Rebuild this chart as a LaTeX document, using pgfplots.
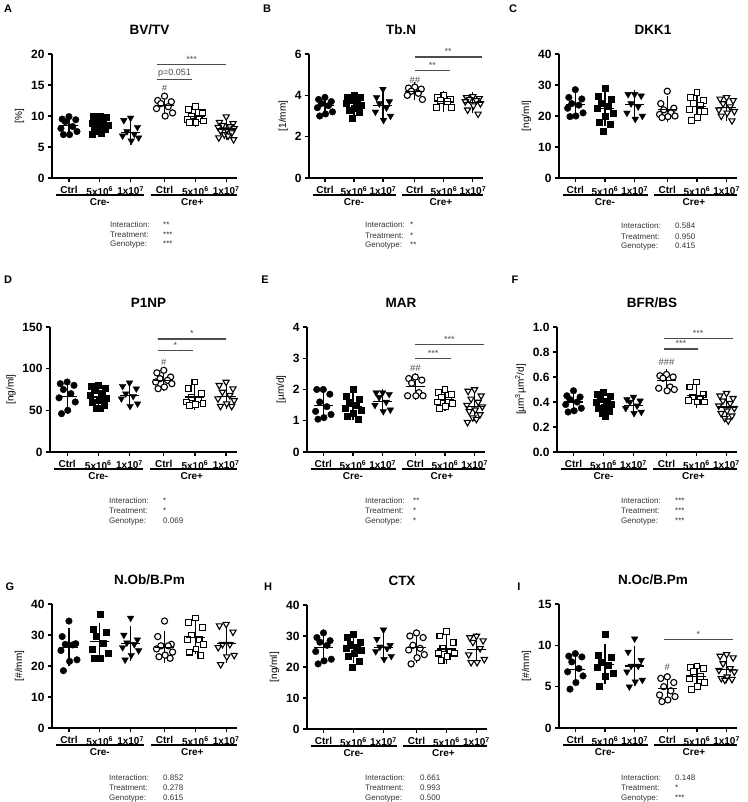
\documentclass[border=0pt]{standalone}
\usepackage{pgfplots}
\pgfplotsset{compat=1.18}
\usepackage{fontspec}
\setmainfont{Liberation Sans}
\definecolor{sigc}{gray}{0.3}
\definecolor{txtc}{gray}{0.2}
\pgfplotsset{
 panel/.style={
  scale only axis, height=124pt, anchor=south west,
  axis x line*=bottom, axis y line*=left,
  axis line style={line width=1.3pt},
  xmin=-0.55, xmax=5.45, ymin=0,
  xtick={0,1,2,3.1,4.1,5.1},
  xticklabels={Ctrl,5x10\textsuperscript{6},1x10\textsuperscript{7},Ctrl,5x10\textsuperscript{6},1x10\textsuperscript{7}},
  tick align=outside, major tick length=4pt,
  every tick/.style={line width=1.2pt, black},
  x tick label style={font=\bfseries\fontsize{10}{11}\selectfont, yshift=-1pt},
  y tick label style={font=\bfseries\fontsize{12}{13}\selectfont},
  /pgf/number format/assume math mode=true,
  ylabel style={font=\fontsize{10}{11}\selectfont},
  title style={font=\bfseries\fontsize{13.5}{15}\selectfont, at={(0.5,1)}, anchor=center, yshift=18pt, xshift=5pt},
  clip=false,
 },
 fc/.style={only marks, mark=*, mark size=3.3pt, mark options={draw=black, fill=black}},
 fs/.style={only marks, mark=square*, mark size=3pt, mark options={draw=black, fill=black}},
 ft/.style={only marks, mark=triangle*, mark size=3.8pt, mark options={draw=black, fill=black, rotate=180}},
 oc/.style={only marks, mark=*, mark size=3.1pt, mark options={draw=black, fill=white, line width=1.1pt}},
 os/.style={only marks, mark=square*, mark size=2.9pt, mark options={draw=black, fill=white, line width=1.1pt}},
 ot/.style={only marks, mark=triangle*, mark size=3.6pt, mark options={draw=black, fill=white, line width=1.1pt, rotate=180}},
}
\newcommand{\pts}[3]{\addplot[#2] table[row sep=\\, x expr=#1+\thisrow{o}, y=v]{o v\\#3\\};}
\newcommand{\msd}[3]{\addplot[black, line width=1.1pt, mark=-, mark size=9.5pt, error bars/.cd, y dir=both, y explicit, error bar style={line width=1.1pt}, error mark options={line width=1.1pt, mark size=5pt}] coordinates {(#1,#2) +- (0,#3)};}
\newcommand{\sig}[4]{\draw[sigc, line width=1.3pt] (axis cs:#1,#3) -- (axis cs:#2,#3) node[midway, above, inner sep=1.5pt, font=\fontsize{9}{10}\selectfont, text=sigc] {#4};}
\newcommand{\hashm}[2]{\node[font=\fontsize{9.5}{10}\selectfont, text=sigc] at (axis cs:3.1,#1) {#2};}
\newcommand{\geno}{%
 \draw[line width=1.2pt] ([yshift=-17pt]axis cs:-0.42,0) -- ([yshift=-17pt]axis cs:2.45,0);
 \draw[line width=1.2pt] ([yshift=-17pt]axis cs:2.65,0) -- ([yshift=-17pt]axis cs:5.45,0);
 \node[font=\bfseries\fontsize{10}{11}\selectfont] at ([yshift=-24.5pt]axis cs:1,0) {Cre-};
 \node[font=\bfseries\fontsize{10}{11}\selectfont] at ([yshift=-24.5pt]axis cs:4.0,0) {Cre+};
}
\newcommand{\stats}[6]{\node[anchor=base west, inner sep=0pt, text=txtc, font=\fontsize{8}{10}\selectfont] at (#1pt,-#2pt) {\begin{tabular}[t]{@{}p{#3pt}@{}l@{}}Interaction: & #4\\ Treatment: & #5\\ Genotype: & #6\end{tabular}};}
\newcommand{\plet}[3]{\node[font=\bfseries\fontsize{11}{12}\selectfont] at (#1pt,-#2pt) {#3};}
\begin{document}
\begin{tikzpicture}
\path[use as bounding box] (0pt,0pt) rectangle (747pt,-802pt);
% ---------- A
\begin{axis}[panel, at={(52pt,-178pt)}, width=185pt, ymax=20, ytick={0,5,10,15,20}, ylabel={[\%]}, title={BV/TV}]
\pts{0}{fc}{0 9.9\\-0.22 9.5\\0.22 9.4\\-0.12 9.1\\0.12 8.3\\-0.26 8.0\\0.26 7.5\\0.02 7.0\\-0.18 7.0}
\pts{1}{fs}{0 10.0\\-0.22 10.0\\0.22 9.8\\-0.12 9.2\\0.12 9.0\\-0.26 8.8\\0.26 8.5\\0.02 8.3\\-0.18 8.0\\0.18 7.8\\-0.06 7.5\\0.06 7.2\\-0.24 7.0}
\pts{2}{ft}{0 9.7\\-0.22 9.3\\0.22 8.2\\-0.12 7.5\\0.12 7.1\\-0.26 6.8\\0.26 6.5\\0.02 6.0}
\pts{3.1}{oc}{0 13.2\\-0.22 12.5\\0.22 12.3\\-0.12 12.0\\0.12 11.5\\-0.26 11.2\\0.26 10.5\\0.02 10.0}
\pts{4.1}{os}{0 11.5\\-0.22 11.0\\0.22 10.5\\-0.12 10.0\\0.12 9.6\\-0.26 9.4\\0.26 9.2\\0.02 9.0\\-0.18 8.9}
\pts{5.1}{ot}{0 9.9\\-0.22 9.0\\0.22 8.8\\-0.12 8.5\\0.12 8.3\\-0.26 8.2\\0.26 8.0\\0.02 7.8\\-0.18 7.6\\0.18 7.3\\-0.06 7.0\\0.06 6.8\\-0.24 6.5\\0.24 6.2}
\msd{0}{8.4}{1.0}\msd{1}{8.6}{0.9}\msd{2}{7.3}{1.2}\msd{3.1}{11.7}{1.0}\msd{4.1}{9.9}{0.9}\msd{5.1}{7.9}{1.0}
\sig{2.85}{5.1}{18.3}{***}\sig{2.85}{4.0}{15.9}{p=0.051}\hashm{14.4}{\#}
\geno
\end{axis}
% ---------- B
\begin{axis}[panel, at={(309pt,-178pt)}, width=174pt, ymax=6, ytick={0,2,4,6}, ylabel={[1/mm]}, title={Tb.N}]
\pts{0}{fc}{0 3.9\\-0.22 3.8\\0.22 3.7\\-0.12 3.6\\0.12 3.5\\-0.26 3.4\\0.26 3.2\\0.02 3.1\\-0.18 3.0}
\pts{1}{fs}{0 4.0\\-0.22 3.9\\0.22 3.9\\-0.12 3.8\\0.12 3.7\\-0.26 3.6\\0.26 3.5\\0.02 3.4\\-0.18 3.3\\0.18 3.2\\-0.06 2.9}
\pts{2}{ft}{0 4.3\\-0.22 3.9\\0.22 3.7\\-0.12 3.6\\0.12 3.4\\-0.26 3.2\\0.26 3.0\\0.02 2.8}
\pts{3.1}{oc}{0 4.4\\-0.22 4.35\\0.22 4.3\\-0.12 4.2\\0.12 4.1\\-0.26 4.0\\0.26 3.8}
\pts{4.1}{os}{0 4.0\\-0.22 3.9\\0.22 3.8\\-0.12 3.75\\0.12 3.7\\-0.26 3.4\\0.26 3.4}
\pts{5.1}{ot}{0 3.95\\-0.22 3.9\\0.22 3.85\\-0.12 3.8\\0.12 3.75\\-0.26 3.7\\0.26 3.6\\0.02 3.5\\-0.18 3.3\\0.18 3.1}
\msd{0}{3.5}{0.3}\msd{1}{3.6}{0.32}\msd{2}{3.5}{0.47}\msd{3.1}{4.2}{0.2}\msd{4.1}{3.7}{0.25}\msd{5.1}{3.65}{0.28}
\sig{3.1}{5.4}{5.85}{**}\sig{3.1}{4.3}{5.2}{**}\hashm{4.75}{\#\#}
\geno
\end{axis}
% ---------- C
\begin{axis}[panel, at={(559pt,-178pt)}, width=178pt, ymax=40, ytick={0,10,20,30,40}, ylabel={[ng/ml]}, title={DKK1}]
\pts{0}{fc}{0 28.5\\-0.22 26\\0.22 25.5\\-0.12 24\\0.12 23.5\\-0.26 22.5\\0.26 21\\0.02 20\\-0.18 19.8}
\pts{1}{fs}{0 29\\-0.22 26.5\\0.22 25.5\\-0.12 24\\0.12 23\\-0.26 22.5\\0.26 21\\0.02 20\\-0.18 18\\0.18 17.5\\-0.06 15}
\pts{2}{ft}{0 27\\-0.22 27\\0.22 26.5\\-0.12 24\\0.12 23\\-0.26 21\\0.26 20\\0.02 19}
\pts{3.1}{oc}{0 28\\-0.22 24\\0.22 22.5\\-0.12 22\\0.12 21\\-0.26 20.5\\0.26 20\\0.02 19.8\\-0.18 19.5}
\pts{4.1}{os}{0 27.5\\-0.22 26\\0.22 25\\-0.12 24\\0.12 23.5\\-0.26 22\\0.26 21.5\\0.02 19.5\\-0.18 18.5}
\pts{5.1}{ot}{0 26\\-0.22 25.5\\0.22 25\\-0.12 24\\0.12 23\\-0.26 22\\0.26 21.5\\0.02 21\\-0.18 20\\0.18 18.5}
\msd{0}{23.7}{2.6}\msd{1}{22.5}{4}\msd{2}{23.7}{3.2}\msd{3.1}{22.2}{2.6}\msd{4.1}{23.2}{2.9}\msd{5.1}{22.6}{2.6}
\geno
\end{axis}
% ---------- D
\begin{axis}[panel, at={(50pt,-452pt)}, width=187pt, height=125pt, ymax=150, ytick={0,50,100,150}, ylabel={[ng/ml]}, title={P1NP}]
\pts{0}{fc}{0 84\\-0.22 82\\0.22 80\\-0.12 75\\0.12 70\\-0.26 65\\0.26 60\\0.02 50\\-0.18 46}
\pts{1}{fs}{0 80\\-0.22 79\\0.22 76\\-0.12 74\\0.12 70\\-0.26 68\\0.26 65\\0.02 62\\-0.18 60\\0.18 56\\-0.06 53\\0.06 52}
\pts{2}{ft}{0 83\\-0.22 79\\0.22 76\\-0.12 70\\0.12 67\\-0.26 64\\0.26 58\\0.02 55}
\pts{3.1}{oc}{0 98\\-0.22 95\\0.22 90\\-0.12 88\\0.12 86\\-0.26 84\\0.26 82\\0.02 78\\-0.18 76}
\pts{4.1}{os}{0 84\\-0.22 76\\0.22 70\\-0.12 65\\0.12 63\\-0.26 60\\0.26 58\\0.02 57\\-0.18 56}
\pts{5.1}{ot}{0 84\\-0.22 80\\0.22 76\\-0.12 72\\0.12 68\\-0.26 64\\0.26 62\\0.02 58\\-0.18 55\\0.18 55}
\msd{0}{67}{13}\msd{1}{66}{9.5}\msd{2}{68}{10}\msd{3.1}{86}{7}\msd{4.1}{66}{9}\msd{5.1}{67}{9.5}
\sig{2.9}{5.1}{135.5}{*}\sig{2.9}{4.05}{122}{*}\hashm{108}{\#}
\geno
\end{axis}
% ---------- E
\begin{axis}[panel, at={(307pt,-452pt)}, width=178pt, height=125pt, ymax=4, ytick={0,1,2,3,4}, ylabel={[µm/d]}, title={MAR}]
\pts{0}{fc}{0 2.0\\-0.22 2.0\\0.22 1.85\\-0.12 1.6\\0.12 1.45\\-0.26 1.3\\0.26 1.2\\0.02 1.1\\-0.18 1.05}
\pts{1}{fs}{0 2.0\\-0.22 1.8\\0.22 1.7\\-0.12 1.6\\0.12 1.5\\-0.26 1.4\\0.26 1.35\\0.02 1.25\\-0.18 1.15\\0.18 1.05}
\pts{2}{ft}{0 1.9\\-0.22 1.9\\0.22 1.85\\-0.12 1.75\\0.12 1.6\\-0.26 1.5\\0.26 1.35\\0.02 1.3}
\pts{3.1}{oc}{0 2.4\\-0.22 2.35\\0.22 2.3\\-0.12 2.2\\0.12 1.9\\-0.26 1.8\\0.26 1.8\\0.02 1.8}
\pts{4.1}{os}{0 2.0\\-0.22 1.9\\0.22 1.85\\-0.12 1.75\\0.12 1.65\\-0.26 1.6\\0.26 1.55\\0.02 1.45\\-0.18 1.4}
\pts{5.1}{ot}{0 2.0\\-0.22 1.95\\0.22 1.8\\-0.12 1.7\\0.12 1.6\\-0.26 1.5\\0.26 1.45\\0.02 1.35\\-0.18 1.3\\0.18 1.2\\-0.06 1.1\\0.06 1.05\\-0.24 0.95}
\msd{0}{1.5}{0.35}\msd{1}{1.45}{0.28}\msd{2}{1.63}{0.22}\msd{3.1}{2.1}{0.27}\msd{4.1}{1.68}{0.2}\msd{5.1}{1.47}{0.33}
\sig{3.1}{5.4}{3.43}{***}\sig{3.1}{4.3}{3.0}{***}\hashm{2.68}{\#\#}
\geno
\end{axis}
% ---------- F
\begin{axis}[panel, at={(557pt,-452pt)}, width=180pt, height=125pt, ymax=1, ytick={0,0.2,0.4,0.6,0.8,1.0}, yticklabel style={/pgf/number format/.cd, fixed, fixed zerofill, precision=1}, ylabel={[µm\textsuperscript{3}µm\textsuperscript{2}/d]}, title={BFR/BS}]
\pts{0}{fc}{0 0.49\\-0.22 0.45\\0.22 0.44\\-0.12 0.42\\0.12 0.40\\-0.26 0.38\\0.26 0.35\\0.02 0.33\\-0.18 0.32}
\pts{1}{fs}{0 0.48\\-0.22 0.46\\0.22 0.45\\-0.12 0.43\\0.12 0.41\\-0.26 0.40\\0.26 0.38\\0.02 0.36\\-0.18 0.35\\0.18 0.33\\-0.06 0.31\\0.06 0.29}
\pts{2}{ft}{0 0.44\\-0.22 0.42\\0.22 0.41\\-0.12 0.40\\0.12 0.37\\-0.26 0.35\\0.26 0.32\\0.02 0.31}
\pts{3.1}{oc}{0 0.62\\-0.22 0.61\\0.22 0.60\\-0.12 0.59\\0.12 0.52\\-0.26 0.51\\0.26 0.50\\0.02 0.49}
\pts{4.1}{os}{0 0.56\\-0.22 0.52\\0.22 0.46\\-0.12 0.44\\0.12 0.42\\-0.26 0.41\\0.26 0.40\\0.02 0.40}
\pts{5.1}{ot}{0 0.47\\-0.22 0.45\\0.22 0.43\\-0.12 0.41\\0.12 0.39\\-0.26 0.37\\0.26 0.35\\0.02 0.33\\-0.18 0.31\\0.18 0.29\\-0.06 0.27\\0.06 0.25}
\msd{0}{0.40}{0.055}\msd{1}{0.40}{0.06}\msd{2}{0.37}{0.045}\msd{3.1}{0.57}{0.055}\msd{4.1}{0.45}{0.06}\msd{5.1}{0.36}{0.07}
\sig{3.0}{5.3}{0.906}{***}\sig{3.0}{4.15}{0.823}{***}\hashm{0.72}{\#\#\#}
\geno
\end{axis}
% ---------- G
\begin{axis}[panel, at={(52pt,-728pt)}, width=185pt, ymax=40, ytick={0,10,20,30,40}, ylabel={[\#/mm]}, title={N.Ob/B.Pm}]
\pts{0}{fc}{0 34.5\\-0.22 29.5\\0.22 27.2\\-0.12 27\\0.12 26.8\\-0.26 25\\0.26 22\\0.02 21.5\\-0.18 18.5}
\pts{1}{fs}{0 36.8\\-0.22 32\\0.22 31\\-0.12 29.5\\0.12 27.5\\-0.26 25.5\\0.26 24\\0.02 22.5\\-0.18 22.5}
\pts{2}{ft}{0 35.5\\-0.22 30\\0.22 28.5\\-0.12 27.5\\0.12 27\\-0.26 26\\0.26 25\\0.02 23.5\\-0.18 22}
\pts{3.1}{oc}{0 34.5\\-0.22 29.5\\0.22 27\\-0.12 26.5\\0.12 26.5\\-0.26 25.5\\0.26 24.5\\0.02 23.5\\-0.18 23\\0.18 22.5}
\pts{4.1}{os}{0 35.5\\-0.22 34\\0.22 32.5\\-0.12 30\\0.12 28.5\\-0.26 28.5\\0.26 27\\0.02 25.5\\-0.18 24.5\\0.18 23.5}
\pts{5.1}{ot}{0 33.5\\-0.22 33\\0.22 31\\-0.12 27\\0.12 27\\-0.26 26\\0.26 23.5\\0.02 23\\-0.18 20.5}
\msd{0}{26.1}{4.5}\msd{1}{27.8}{4.5}\msd{2}{27.2}{4}\msd{3.1}{26.1}{3.6}\msd{4.1}{29.3}{3.9}\msd{5.1}{27.2}{4.5}
\geno
\end{axis}
% ---------- H
\begin{axis}[panel, at={(307pt,-729pt)}, width=180pt, ymax=40, ytick={0,10,20,30,40}, ylabel={[ng/ml]}, title={CTX}]
\pts{0}{fc}{0 31\\-0.22 29.5\\0.22 28.5\\-0.12 28\\0.12 27\\-0.26 25\\0.26 22.5\\0.02 22\\-0.18 21}
\pts{1}{fs}{0 30.5\\-0.22 29.5\\0.22 28\\-0.12 27.5\\0.12 26.5\\-0.26 26\\0.26 25.5\\0.02 24.5\\-0.18 23.5\\0.18 22\\-0.06 20}
\pts{2}{ft}{0 32\\-0.22 29\\0.22 27\\-0.12 26.5\\0.12 26\\-0.26 25\\0.26 23.5\\0.02 22.5}
\pts{3.1}{oc}{0 31\\-0.22 30\\0.22 29.5\\-0.12 27\\0.12 26\\-0.26 25.5\\0.26 24\\0.02 23\\-0.18 21}
\pts{4.1}{os}{0 31.5\\-0.22 30\\0.22 28\\-0.12 26\\0.12 25\\-0.26 24.5\\0.26 24.5\\0.02 23.5\\-0.18 22}
\pts{5.1}{ot}{0 30\\-0.22 29.5\\0.22 28.5\\-0.12 28\\0.12 26\\-0.26 24\\0.26 22.5\\0.02 21.5\\-0.18 21.5}
\msd{0}{26.3}{3.4}\msd{1}{25.9}{3.1}\msd{2}{26.3}{3}\msd{3.1}{26.2}{3.2}\msd{4.1}{25.8}{3.2}\msd{5.1}{25.7}{3.5}
\geno
\end{axis}
% ---------- I
\begin{axis}[panel, at={(559pt,-728pt)}, width=178pt, ymax=15, ytick={0,5,10,15}, ylabel={[\#/mm]}, title={N.Oc/B.Pm}]
\pts{0}{fc}{0 9.0\\-0.22 8.7\\0.22 8.6\\-0.12 8.0\\0.12 7.2\\-0.26 6.8\\0.26 6.3\\0.02 5.5\\-0.18 4.7}
\pts{1}{fs}{0 11.3\\-0.22 8.8\\0.22 8.6\\-0.12 8.0\\0.12 7.6\\-0.26 7.4\\0.26 6.6\\0.02 6.3\\-0.18 5.0}
\pts{2}{ft}{0 10.8\\-0.22 9.2\\0.22 8.2\\-0.12 7.5\\0.12 7.5\\-0.26 6.8\\0.26 5.8\\0.02 5.6\\-0.18 5.0}
\pts{3.1}{oc}{0 6.2\\-0.22 6.0\\0.22 5.5\\-0.12 5.0\\0.12 4.5\\-0.26 4.0\\0.26 3.8\\0.02 3.4\\-0.18 3.2}
\pts{4.1}{os}{0 7.5\\-0.22 7.3\\0.22 7.2\\-0.12 6.8\\0.12 6.2\\-0.26 6.0\\0.26 5.5\\0.02 5.0\\-0.18 4.7}
\pts{5.1}{ot}{0 8.9\\-0.22 8.7\\0.22 8.5\\-0.12 7.8\\0.12 7.2\\-0.26 7.0\\0.26 6.8\\0.02 6.2\\-0.18 6.0\\0.18 5.9\\-0.06 5.8}
\msd{0}{7.1}{1.45}\msd{1}{7.7}{1.8}\msd{2}{7.5}{1.85}\msd{3.1}{4.8}{1.05}\msd{4.1}{6.2}{1.0}\msd{5.1}{7.1}{1.05}
\sig{3.0}{5.3}{10.7}{*}\hashm{7.3}{\#}
\geno
\end{axis}
% ---------- letters and statistics
\plet{8}{9}{A}\plet{267}{9}{B}\plet{513}{9}{C}
\plet{8}{280}{D}\plet{265}{280}{E}\plet{515}{280}{F}
\plet{10}{587}{G}\plet{268}{587}{H}\plet{519}{587}{I}
\stats{110}{227}{53}{**}{***}{***}
\stats{365}{228}{45}{*}{*}{**}
\stats{621}{229}{54}{0.584}{0.950}{0.415}
\stats{109}{503}{54}{*}{*}{0.069}
\stats{365}{503}{48}{**}{*}{*}
\stats{621}{503}{54}{***}{***}{***}
\stats{109}{780}{54}{0.852}{0.278}{0.615}
\stats{365}{780}{55}{0.661}{0.993}{0.500}
\stats{621}{780}{54}{0.148}{*}{***}
\end{tikzpicture}
\end{document}
